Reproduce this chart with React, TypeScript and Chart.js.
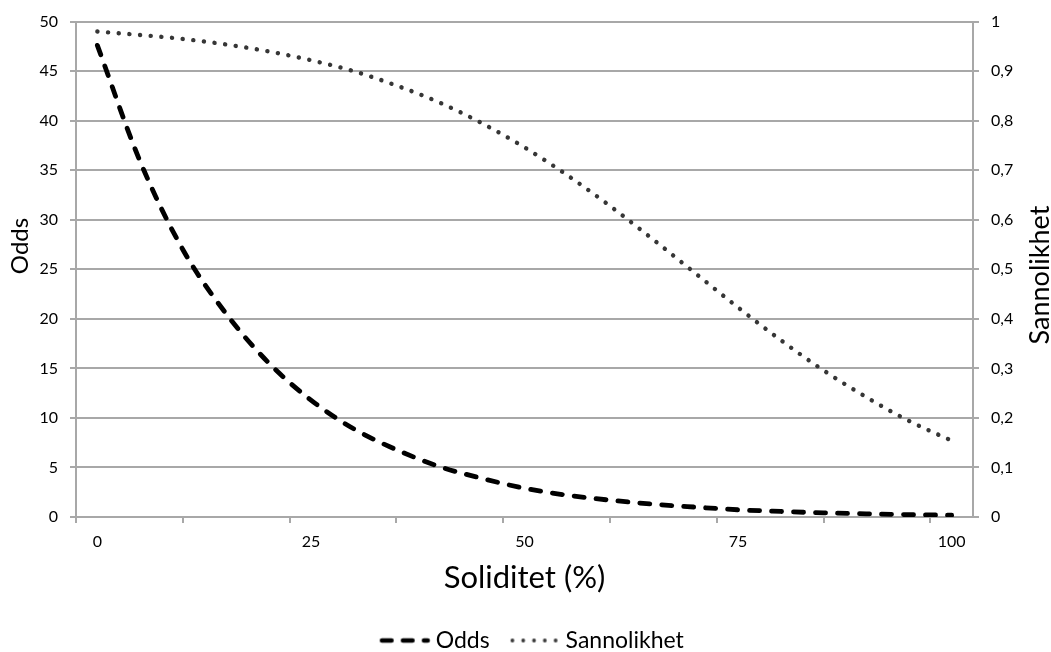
import React, { useEffect, useRef } from "react";
import { Chart, registerables } from "chart.js";

Chart.register(...registerables);

const xValues = [0, 5, 10, 15, 20, 25, 30, 35, 40, 45, 50, 55, 60, 65, 70, 75, 80, 85, 90, 95, 100];
const oddsValues = [47.6, 35.9, 27.0, 20.6, 15.6, 11.8, 8.9, 6.8, 5.1, 3.9, 2.9, 2.2, 1.7, 1.3, 1.0, 0.73, 0.56, 0.42, 0.32, 0.24, 0.18];
const probValues = [0.98, 0.973, 0.965, 0.954, 0.94, 0.922, 0.9, 0.871, 0.837, 0.795, 0.746, 0.69, 0.628, 0.561, 0.492, 0.423, 0.357, 0.296, 0.242, 0.194, 0.154];
const xLabelTicks = [0, 25, 50, 75, 100];
const xMarkTicks = [-2.5, 10, 22.5, 35, 47.5, 60, 72.5, 85, 97.5];
const seriesNames = ["Odds", "Sannolikhet"];
const axisTitles = { x: "Soliditet (%)", y: "Odds", y1: "Sannolikhet" };

const FONT = "Lato";
const GRID = "#a8a8a8";
const TICK_SIZE = 16;
const LEGEND_SIZE = 23;

function makeOddsSample(): HTMLCanvasElement {
  const c = document.createElement("canvas");
  c.width = 70;
  c.height = 12;
  const g = c.getContext("2d")!;
  g.strokeStyle = "#000";
  g.lineWidth = 4.6;
  g.lineCap = "round";
  g.setLineDash([9.5, 11.5]);
  g.beginPath();
  g.moveTo(21.3, 6);
  g.lineTo(67, 6);
  g.stroke();
  return c;
}

function makeProbSample(): HTMLCanvasElement {
  const c = document.createElement("canvas");
  c.width = 70;
  c.height = 12;
  const g = c.getContext("2d")!;
  g.fillStyle = "#3a3a3a";
  for (let i = 0; i < 5; i++) {
    g.beginPath();
    g.arc(21.8 + i * 10.8, 6, 1.9, 0, Math.PI * 2);
    g.fill();
  }
  return c;
}

export default function App() {
  const ref = useRef<HTMLCanvasElement | null>(null);
  useEffect(() => {
    document.body.style.margin = "0";
    const canvas = ref.current;
    if (!canvas) return;
    const samples = [makeOddsSample(), makeProbSample()];
    const vTitles = {
      id: "vTitles",
      afterDraw(chart: any) {
        const { ctx } = chart;
        const draw = (text: string, x: number, y: number, size: number) => {
          ctx.save();
          ctx.translate(x, y);
          ctx.rotate(-Math.PI / 2);
          ctx.font = `${size}px ${FONT}`;
          ctx.fillStyle = "#000";
          ctx.textAlign = "center";
          ctx.textBaseline = "middle";
          ctx.fillText(text, 0, 0);
          ctx.restore();
        };
        draw(axisTitles.y, 20, 246, 24);
        draw(axisTitles.y1, 1040, 275, 27);
      },
    };
    const chart = new Chart(canvas, {
      type: "line",
      data: {
        datasets: [
          {
            label: seriesNames[0],
            data: xValues.map((x, i) => ({ x, y: oddsValues[i] })),
            borderColor: "#000000",
            backgroundColor: "transparent",
            borderWidth: 4.8,
            borderDash: [10, 12],
            borderCapStyle: "round",
            pointRadius: 0,
            cubicInterpolationMode: "monotone",
            yAxisID: "y",
            xAxisID: "x",
          },
          {
            label: seriesNames[1],
            data: xValues.map((x, i) => ({ x, y: probValues[i] })),
            borderColor: "#363636",
            backgroundColor: "transparent",
            borderWidth: 4.4,
            borderDash: [0.1, 10.6],
            borderCapStyle: "round",
            pointRadius: 0,
            cubicInterpolationMode: "monotone",
            yAxisID: "y1",
            xAxisID: "x",
          },
        ],
      },
      plugins: [vTitles],
      options: {
        animation: false,
        responsive: false,
        maintainAspectRatio: false,
        layout: { padding: { top: 18, left: 0, right: 0, bottom: -10 } },
        plugins: {
          tooltip: { enabled: false },
          legend: {
            position: "bottom",
            labels: {
              usePointStyle: true,
              pointStyleWidth: 57,
              color: "#000",
              font: { family: FONT, size: LEGEND_SIZE },
              padding: 7.5,
              generateLabels: (ch: any) => {
                const items = Chart.defaults.plugins.legend.labels.generateLabels(ch);
                items.forEach((it: any, i: number) => {
                  it.pointStyle = samples[i];
                });
                return items;
              },
            },
          },
        },
        scales: {
          xMarks: {
            type: "linear",
            position: "bottom",
            weight: 1,
            min: -2.5,
            max: 102.5,
            afterBuildTicks: (s: any) => {
              s.ticks = xMarkTicks.map((v) => ({ value: v }));
            },
            afterFit: (s: any) => {
              s.height = 6;
            },
            ticks: { display: false },
            grid: { drawOnChartArea: false, drawTicks: true, tickLength: 6, color: GRID, lineWidth: 2 },
            border: { display: true, color: GRID, width: 2 },
          },
          x: {
            type: "linear",
            position: "bottom",
            weight: 2,
            min: -2.5,
            max: 102.5,
            afterBuildTicks: (s: any) => {
              s.ticks = xLabelTicks.map((v) => ({ value: v }));
            },
            afterFit: (s: any) => {
              s.height = 98.5;
            },
            ticks: { color: "#000", font: { family: FONT, size: TICK_SIZE }, padding: 1, maxRotation: 0, autoSkip: false },
            grid: { display: false },
            border: { display: false },
            title: { display: true, text: axisTitles.x, color: "#000", font: { family: FONT, size: 31 }, padding: { top: 0, bottom: 25 } },
          },
          y: {
            type: "linear",
            position: "left",
            min: 0,
            max: 50,
            afterFit: (s: any) => {
              s.width = 76;
            },
            ticks: { stepSize: 5, color: "#000", font: { family: FONT, size: TICK_SIZE }, padding: 12 },
            grid: { color: GRID, lineWidth: 2, tickLength: 6 },
            border: { color: GRID, width: 2 },
          },
          y1: {
            type: "linear",
            position: "right",
            min: 0,
            max: 1,
            afterFit: (s: any) => {
              s.width = 78;
            },
            ticks: {
              stepSize: 0.1,
              color: "#000",
              font: { family: FONT, size: TICK_SIZE },
              padding: 12,
              callback: (v: any) => {
                const n = Number(v);
                if (Math.abs(n) < 1e-9) return "0";
                if (Math.abs(n - 1) < 1e-9) return "1";
                return n.toFixed(1).replace(".", ",");
              },
            },
            grid: { drawOnChartArea: false, color: GRID, lineWidth: 2, tickLength: 6 },
            border: { color: GRID, width: 2 },
          },
        },
      },
    });
    return () => chart.destroy();
  }, []);
  return (
    <div style={{ width: 1051, height: 652, background: "#fff" }}>
      <canvas ref={ref} width={1051} height={652} style={{ width: 1051, height: 652, display: "block" }} />
    </div>
  );
}
